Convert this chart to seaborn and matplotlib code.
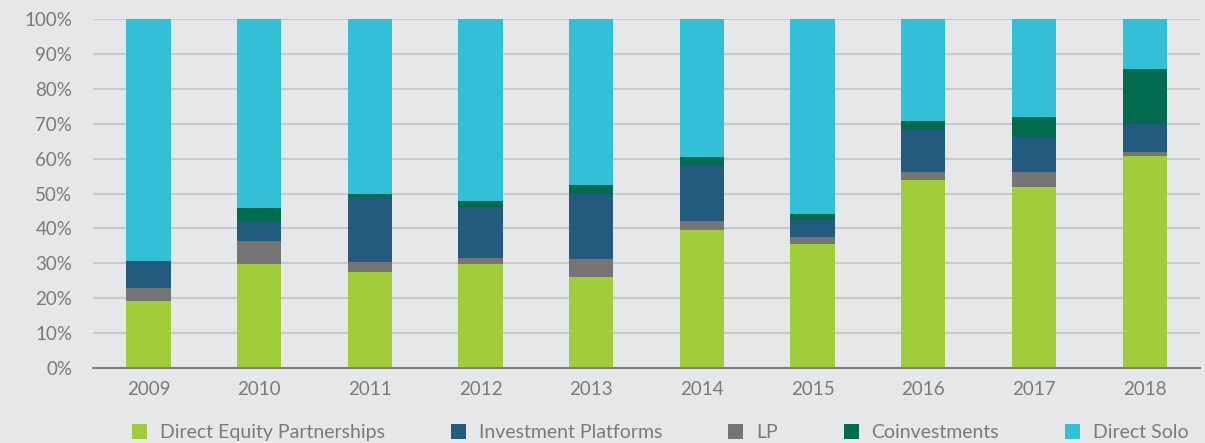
import numpy as np
import pandas as pd
import matplotlib
matplotlib.use('Agg')
import matplotlib.pyplot as plt
import seaborn as sns
from matplotlib.patches import Patch

# data (% of deals per year)
years = ['2009', '2010', '2011', '2012', '2013', '2014', '2015', '2016', '2017', '2018']
direct_equity = [19.3, 29.7, 27.6, 29.7, 26.2, 39.5, 35.6, 53.8, 52.0, 60.7]
lp = [3.7, 6.8, 2.9, 1.8, 4.9, 2.7, 1.8, 2.3, 4.1, 1.2]
platforms = [7.6, 5.4, 18.6, 14.7, 18.9, 15.8, 5.1, 12.2, 10.0, 7.9]
coinvest = [0.0, 3.9, 0.9, 1.8, 2.4, 2.6, 1.5, 2.4, 5.8, 15.8]
direct_solo = [69.4, 54.2, 50.0, 52.0, 47.6, 39.4, 56.0, 29.3, 28.1, 14.4]

bg = '#e6e7e9'
txt = '#7a7a7a'
colors = {
    'Direct Equity Partnerships': '#a2cd3a',
    'Investment Platforms': '#235b7e',
    'LP': '#757575',
    'Coinvestments': '#006b4f',
    'Direct Solo': '#33bfd6',
}

df = pd.DataFrame({
    'year': years,
    'Direct Equity Partnerships': direct_equity,
    'LP': lp,
    'Investment Platforms': platforms,
    'Coinvestments': coinvest,
    'Direct Solo': direct_solo,
})

# stack order bottom -> top
stack = ['Direct Equity Partnerships', 'LP', 'Investment Platforms', 'Coinvestments', 'Direct Solo']
cum = df[stack].cumsum(axis=1)

plt.rcParams['font.family'] = ['Lato', 'DejaVu Sans']
fig = plt.figure(figsize=(12.05, 4.43), dpi=100, facecolor=bg)
ax = fig.add_axes([0.0772, 0.1693, 0.9187, 0.7877])
ax.set_facecolor(bg)

# draw cumulative totals top-down so each layer covers the one above
for name in reversed(stack):
    sns.barplot(x=df['year'], y=cum[name], color=colors[name], width=0.4,
                saturation=1, linewidth=0, ax=ax, zorder=3)

ax.set_xlim(-0.5, 9.5)
ax.set_ylim(0, 100)
ax.set_yticks(np.arange(0, 101, 10))
ax.set_yticklabels([f'{v}%' for v in range(0, 101, 10)])
ax.yaxis.grid(True, color='#c9cacc', linewidth=1.5, zorder=0)
ax.set_axisbelow(True)
for s in ['top', 'right', 'left']:
    ax.spines[s].set_visible(False)
ax.spines['bottom'].set_color('#7f7f7f')
ax.spines['bottom'].set_linewidth(1.5)
ax.spines['bottom'].set_zorder(5)
ax.tick_params(axis='both', length=0, labelsize=13.5, colors=txt)
ax.tick_params(axis='y', pad=15)
ax.tick_params(axis='x', pad=9)
ax.set_xlabel('')
ax.set_ylabel('')

legend_order = ['Direct Equity Partnerships', 'Investment Platforms', 'LP', 'Coinvestments', 'Direct Solo']
handles = [Patch(facecolor=colors[n], edgecolor='none') for n in legend_order]
leg = fig.legend(handles, legend_order, loc='lower center', bbox_to_anchor=(0.548, -0.035),
                 ncol=5, frameon=False, fontsize=14, labelcolor=txt,
                 handlelength=0.78, handleheight=0.78, handletextpad=0.65, columnspacing=3.4)

plt.savefig('out.png', dpi=100, facecolor=bg)
plt.close()
